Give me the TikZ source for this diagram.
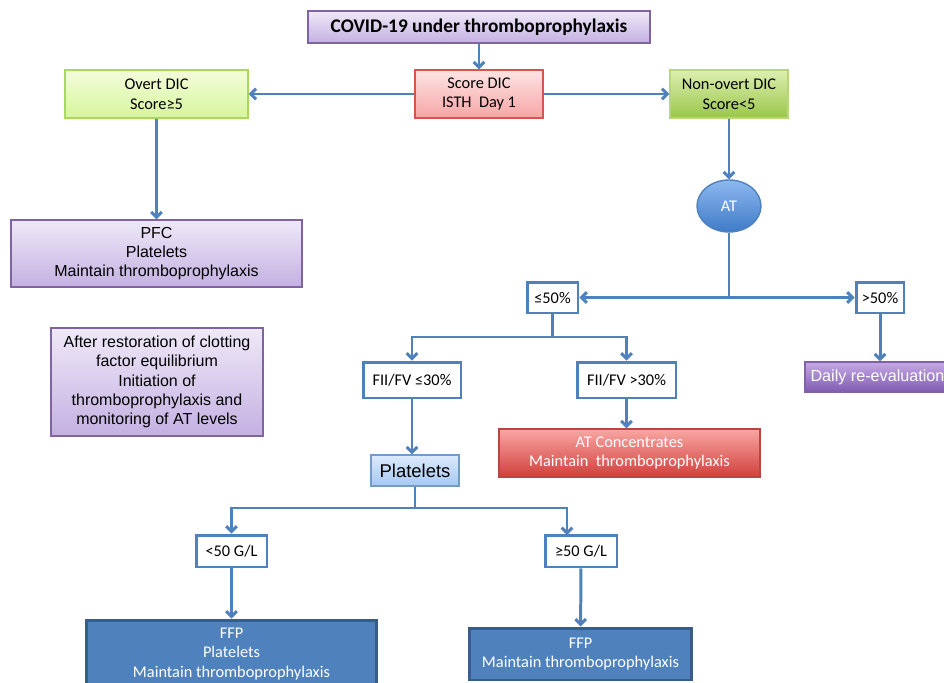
\documentclass[tikz,border=0pt]{standalone}
\usepackage{fontspec}
\setmainfont{Carlito}
\newfontfamily\arialf{Liberation Sans}
\usetikzlibrary{shapes.geometric, arrows.meta}

\definecolor{lnblue}{HTML}{4F81BD}
\definecolor{dkblue}{HTML}{385D8A}
\definecolor{lilac}{HTML}{8064A2}
\definecolor{lavtop}{HTML}{EFE9F8}
\definecolor{lavbot}{HTML}{C4B0E2}
\definecolor{redln}{HTML}{D9534F}
\definecolor{pinktop}{HTML}{FDE4E4}
\definecolor{pinkbot}{HTML}{F6A5A5}
\definecolor{limetop}{HTML}{F4FDDB}
\definecolor{limebot}{HTML}{D6F59C}
\definecolor{limeln}{HTML}{A9D95C}
\definecolor{grntop}{HTML}{DDEFB0}
\definecolor{grnbot}{HTML}{9AC64A}
\definecolor{grnln}{HTML}{B5D77A}
\definecolor{attop}{HTML}{8DB8F0}
\definecolor{atbot}{HTML}{3F7BC8}
\definecolor{conctop}{HTML}{F9A6A3}
\definecolor{concbot}{HTML}{D0403C}
\definecolor{dailytop}{HTML}{C6A9E6}
\definecolor{dailybot}{HTML}{7F5BB0}
\definecolor{plttop}{HTML}{DCEAFC}
\definecolor{pltbot}{HTML}{A6C8F2}

\begin{document}
\begin{tikzpicture}[x=0.02cm,y=-0.02cm,
	box/.style={draw,line width=0.8pt,inner sep=0pt,align=center,font=\fontsize{9.3}{11.2}\selectfont},
	purp/.style={box,draw=lilac,top color=lavtop,bottom color=lavbot},
	redbox/.style={box,draw=redln,top color=pinktop,bottom color=pinkbot},
	grn/.style={box,draw=limeln,top color=limetop,bottom color=limebot},
	wbox/.style={box,draw=lnblue,line width=1.7pt,fill=white},
	ffp/.style={box,draw=dkblue,line width=1.7pt,fill=lnblue,text=white},
	arr/.style={draw=lnblue,line width=1.7pt,-{Straight Barb[length=3pt,width=6pt]}},
	ln/.style={draw=lnblue,line width=1.7pt}]
	\clip (0,0) rectangle (944,683);
	\fill[white] (0,0) rectangle (944,683);
	% top row
	\node[purp,minimum width=6.84cm,minimum height=0.64cm,font=\fontsize{11}{13}\selectfont\bfseries] (title) at (479,27) {COVID-19 under thromboprophylaxis};
	\node[redbox,minimum width=2.56cm,minimum height=0.96cm] (score) at (479,94) {Score DIC\\ISTH\ \ Day 1};
	\node[grn,minimum width=3.66cm,minimum height=0.96cm] (overt) at (156.5,94) {Overt DIC\\Score≥5};
	\node[box,draw=grnln,top color=grntop,bottom color=grnbot,minimum width=2.36cm,minimum height=0.96cm] (nonovert) at (729,94) {Non-overt DIC\\Score<5};
	% left column
	\node[purp,minimum width=5.82cm,minimum height=1.34cm,font=\arialf\fontsize{9.1}{11}\selectfont] (pfc) at (156.5,253.5) {PFC\\Platelets\\Maintain thromboprophylaxis};
	\node[purp,minimum width=4.24cm,minimum height=2.16cm,font=\arialf\fontsize{9.1}{11}\selectfont] (restore) at (157,382) {After restoration of clotting\\factor equilibrium\\Initiation of\\thromboprophylaxis and\\monitoring of AT levels};
	% AT branch
	\node[ellipse,draw=lnblue,line width=0.8pt,top color=attop,bottom color=atbot,text=white,minimum width=1.28cm,minimum height=1.04cm,inner sep=0pt,font=\fontsize{9.3}{11}\selectfont] (at) at (729,206) {AT};
	\node[wbox,minimum width=1.02cm,minimum height=0.62cm] (le50) at (552.5,297.5) {≤50\%};
	\node[wbox,minimum width=0.96cm,minimum height=0.62cm] (gt50) at (880,297.5) {>50\%};
	\node[box,draw=lilac,top color=dailytop,bottom color=dailybot,text=white,minimum width=2.9cm,minimum height=0.6cm,font=\arialf\fontsize{9.2}{12}\selectfont] (daily) at (877.5,377) {Daily re-evaluation};
	\node[wbox,minimum width=1.96cm,minimum height=0.72cm] (fle30) at (412,380) {FII/FV ≤30\%};
	\node[wbox,minimum width=1.98cm,minimum height=0.72cm] (fgt30) at (626.5,380) {FII/FV >30\%};
	\node[box,draw=redln!85!black,top color=conctop,bottom color=concbot,text=white,minimum width=5.22cm,minimum height=0.96cm] (atconc) at (629.5,453) {AT Concentrates\\Maintain\ \ thromboprophylaxis};
	\node[box,draw=lnblue!80,top color=plttop,bottom color=pltbot,minimum width=1.76cm,minimum height=0.62cm,font=\arialf\fontsize{10.5}{12}\selectfont] (plt) at (415,470.5) {Platelets};
	% platelet count
	\node[wbox,minimum width=1.42cm,minimum height=0.64cm] (lt50g) at (231.5,551) {<50 G/L};
	\node[wbox,minimum width=1.44cm,minimum height=0.64cm] (ge50g) at (581,551) {≥50 G/L};
	\node[ffp,minimum width=5.82cm,minimum height=1.36cm] (ffp1) at (231.5,654) {FFP\\Platelets\\Maintain thromboprophylaxis};
	\node[ffp,minimum width=4.46cm,minimum height=1.04cm] (ffp2) at (580.5,654) {FFP\\Maintain thromboprophylaxis};
	\coordinate (s1) at (552.5,337);
	\coordinate (s2) at (415,508);
	\coordinate (g2) at (567,535);
	\draw[arr] (title) -- (score);
	\draw[arr] (score) -- (overt);
	\draw[arr] (score) -- (nonovert);
	\draw[arr] (overt) -- (pfc);
	\draw[arr] (nonovert) -- (at);
	\draw[arr] (at.south) |- (le50.east);
	\draw[arr] (at.south) |- (gt50.west);
	\draw[ln] (le50.south) -- (s1);
	\draw[arr] (s1) -| (fle30.north);
	\draw[arr] (s1) -| (fgt30.north);
	\draw[arr] (gt50.south) -- (gt50.south |- daily.north);
	\draw[arr] (fle30.south) -- (fle30.south |- plt.north);
	\draw[arr] (fgt30.south) -- (fgt30.south |- atconc.north);
	\draw[ln] (plt.south) -- (s2);
	\draw[arr] (s2) -| (lt50g.north);
	\draw[arr] (s2) -| (g2);
	\draw[arr] (lt50g) -- (ffp1);
	\draw[arr] (ge50g) -- (ffp2);
\end{tikzpicture}
\end{document}
